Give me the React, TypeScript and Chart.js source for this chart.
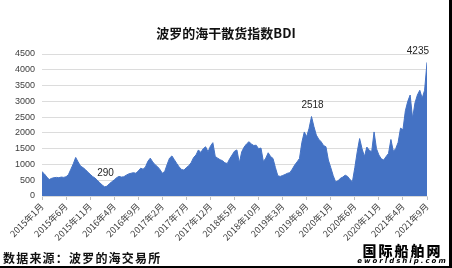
import React, { useEffect, useRef } from "react";
import { Chart, registerables } from "chart.js";

Chart.register(...registerables);

// Semi-monthly BDI readings, starting January 2015 (one value every half month)
const monthsPerStep = 0.5;
const bdi = [
  770, 700, 600, 520, 560, 580, 590, 580, 600, 590,
  610, 680, 850, 1020, 1222, 1080, 950, 900, 840, 760,
  690, 620, 570, 500, 420, 350, 290, 310, 390, 450,
  510, 580, 620, 600, 610, 660, 700, 720, 740, 720,
  790, 880, 850, 920, 1100, 1200, 1080, 990, 930, 840,
  720, 780, 1000, 1200, 1270, 1150, 1030, 920, 840, 820,
  900, 960, 1060, 1220, 1300, 1460, 1380, 1500, 1560, 1400,
  1580, 1690, 1250, 1200, 1150, 1120, 1050, 1030, 1180, 1300,
  1420, 1460, 1050, 1400, 1550, 1650, 1720, 1650, 1600, 1610,
  1500, 1520, 1090, 1200, 1370, 1250, 1190, 900, 640, 620,
  650, 680, 720, 740, 850, 980, 1080, 1190, 1700, 2030,
  1880, 2150, 2518, 2200, 1930, 1800, 1720, 1600, 1560, 1140,
  900, 650, 450, 480, 560, 600, 660, 620, 520, 450,
  900, 1400, 1820, 1500, 1250, 1550, 1450, 1400, 2030, 1500,
  1300, 1180, 1140, 1250, 1350, 1790, 1420, 1500, 1700, 2150,
  2100, 2700, 3000, 3200, 2460, 2950, 3200, 3350, 3100, 3350,
  4235,
];

const tickLabels = [
  "2015年1月", "2015年6月", "2015年11月", "2016年4月", "2016年9月",
  "2017年2月", "2017年7月", "2017年12月", "2018年5月", "2018年10月",
  "2019年3月", "2019年8月", "2020年1月", "2020年6月", "2020年11月",
  "2021年4月", "2021年9月",
];
const tickStepMonths = 5;

const annotatedValues = [290, 2518, 4235];

const titleText = "波罗的海干散货指数BDI";
const sourceText = "数据来源：波罗的海交易所";

const labelPlugin = {
  id: "valueLabels",
  afterDatasetsDraw(chart: any) {
    const ctx = chart.ctx;
    const meta = chart.getDatasetMeta(0);
    ctx.save();
    ctx.font = "10px 'Liberation Sans', Arial, sans-serif";
    ctx.fillStyle = "#262626";
    ctx.textBaseline = "bottom";
    annotatedValues.forEach((v, k) => {
      const idx = bdi.indexOf(v);
      if (idx < 0) return;
      const p = meta.data[idx];
      const last = k === annotatedValues.length - 1;
      ctx.textAlign = last ? "right" : "center";
      const dx = last ? 2 : 1;
      const dy = v < 500 ? 9 : 6;
      ctx.fillText(String(v), p.x + dx, p.y - dy);
    });
    ctx.restore();
  },
};

export default function App() {
  const ref = useRef<HTMLCanvasElement | null>(null);

  useEffect(() => {
    if (!ref.current) return;
    const points = bdi.map((y, i) => ({ x: i * monthsPerStep, y }));
    const chart = new Chart(ref.current, {
      type: "line",
      data: {
        datasets: [
          {
            data: points,
            fill: "origin",
            backgroundColor: "#4472C4",
            borderColor: "#4472C4",
            borderWidth: 1,
            pointRadius: 0,
            tension: 0,
          },
        ],
      },
      options: {
        animation: false,
        responsive: false,
        devicePixelRatio: 1,
        layout: { padding: { top: 54, right: 25, bottom: 0, left: 0 } },
        plugins: {
          legend: { display: false },
          tooltip: { enabled: false },
          title: { display: false },
        },
        scales: {
          x: {
            type: "linear",
            min: 0,
            max: (tickLabels.length - 1) * tickStepMonths,
            afterFit: (s: any) => {
              s.height = 72;
            },
            afterBuildTicks: (s: any) => {
              s.ticks = tickLabels.map((_, i) => ({ value: i * tickStepMonths }));
            },
            ticks: {
              autoSkip: false,
              maxRotation: 45,
              minRotation: 45,
              padding: 1,
              color: "#404040",
              font: { size: 9, family: "'Noto Sans CJK SC', sans-serif" },
              callback: (v: any) => tickLabels[Math.round(Number(v) / tickStepMonths)] ?? "",
            },
            grid: {
              display: true,
              drawOnChartArea: false,
              drawTicks: true,
              tickLength: 4,
              color: "#bfbfbf",
            },
            border: { display: true, color: "#d9d9d9" },
          },
          y: {
            min: 0,
            max: 4500,
            afterFit: (s: any) => {
              s.width = 42;
            },
            ticks: {
              stepSize: 500,
              padding: 7,
              color: "#404040",
              font: { size: 9, family: "'Liberation Sans', Arial, sans-serif" },
              callback: (v: any) => String(v),
            },
            grid: { color: "#dcdcdc", drawTicks: false },
            border: { display: false },
          },
        },
      },
      plugins: [labelPlugin],
    });
    return () => chart.destroy();
  }, []);

  return (
    <div
      style={{
        position: "absolute",
        left: 0,
        top: 0,
        width: 452,
        height: 268,
        background: "#ffffff",
        overflow: "hidden",
      }}
    >
      <canvas ref={ref} width={452} height={268} style={{ width: 452, height: 268, display: "block" }} />
      <div
        style={{
          position: "absolute",
          left: 0,
          width: 452,
          top: 23,
          textAlign: "center",
          fontFamily: "'Noto Sans CJK SC', sans-serif",
          fontWeight: 700,
          fontSize: 13,
          lineHeight: "20px",
          color: "#111",
        }}
      >
        {titleText}
      </div>
      <div
        style={{
          position: "absolute",
          left: 3,
          top: 250,
          fontFamily: "'Noto Sans CJK SC', sans-serif",
          fontWeight: 700,
          fontSize: 12,
          letterSpacing: 1.2,
          lineHeight: "16px",
          color: "#111",
        }}
      >
        {sourceText}
      </div>
      <div
        style={{
          position: "absolute",
          left: 355,
          top: 243,
          width: 95,
          textAlign: "center",
          fontFamily: "'Noto Sans CJK SC', sans-serif",
          fontWeight: 900,
          fontSize: 14,
          lineHeight: "14px",
          letterSpacing: 2,
          color: "#000",
          textShadow: "1px 0 #fff, -1px 0 #fff, 0 1px #fff, 0 -1px #fff",
        }}
      >
        国际船舶网
      </div>
      <div
        style={{
          position: "absolute",
          left: 355,
          top: 257,
          width: 95,
          textAlign: "center",
          fontFamily: "'DejaVu Sans', sans-serif",
          fontWeight: 700,
          fontStyle: "italic",
          fontSize: 7,
          lineHeight: "8px",
          letterSpacing: 2,
          color: "#000",
        }}
      >
        eworldship.com
      </div>
      <div style={{ position: "absolute", right: 0, top: 0, width: 3, height: 268, background: "#000" }} />
      <div style={{ position: "absolute", left: 0, bottom: 0, width: 452, height: 2, background: "#000" }} />
    </div>
  );
}
